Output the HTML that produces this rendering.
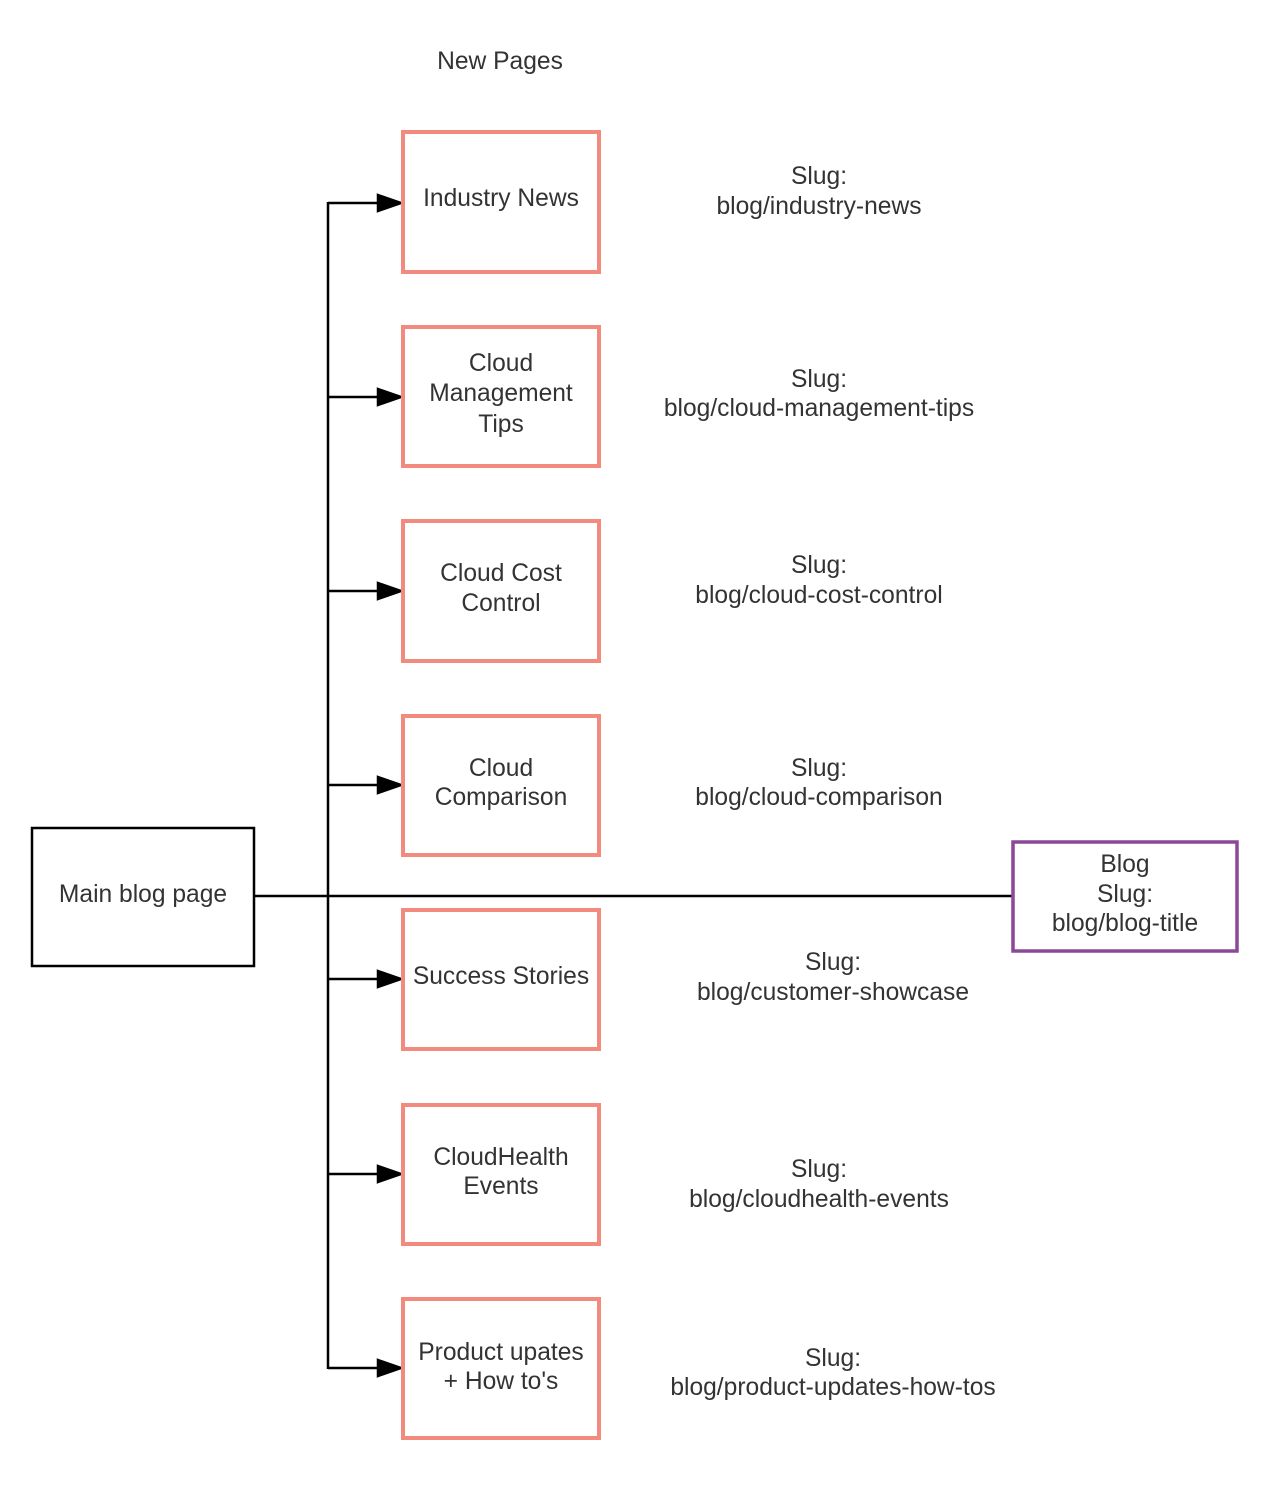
<!DOCTYPE html>
<html><head><meta charset="utf-8"><style>
body{margin:0;background:#fff}
svg text{font-family:"Liberation Sans",sans-serif;font-size:24.6px;fill:#333;text-anchor:middle}
</style></head><body>
<svg width="1266" height="1487" xmlns="http://www.w3.org/2000/svg">
<text x="500" y="69">New Pages</text>
<g fill="none" stroke="#000" stroke-width="2.5">
<line x1="328" y1="202" x2="328" y2="1369"/>
<line x1="254" y1="896" x2="1013" y2="896"/>
</g>
<g stroke="#000" stroke-width="2.5" fill="#000">
<line x1="328" y1="203" x2="380" y2="203"/><path d="M378,195 L401,203 L378,211 Z"/>
<line x1="328" y1="397" x2="380" y2="397"/><path d="M378,389 L401,397 L378,405 Z"/>
<line x1="328" y1="591" x2="380" y2="591"/><path d="M378,583 L401,591 L378,599 Z"/>
<line x1="328" y1="785" x2="380" y2="785"/><path d="M378,777 L401,785 L378,793 Z"/>
<line x1="328" y1="979" x2="380" y2="979"/><path d="M378,971 L401,979 L378,987 Z"/>
<line x1="328" y1="1174" x2="380" y2="1174"/><path d="M378,1166 L401,1174 L378,1182 Z"/>
<line x1="328" y1="1368" x2="380" y2="1368"/><path d="M378,1360 L401,1368 L378,1376 Z"/>
</g>
<g fill="#fff" stroke="#f38a7e" stroke-width="4">
<rect x="403" y="132" width="196" height="140"/>
<rect x="403" y="327" width="196" height="139"/>
<rect x="403" y="521" width="196" height="140"/>
<rect x="403" y="716" width="196" height="139"/>
<rect x="403" y="910" width="196" height="139"/>
<rect x="403" y="1105" width="196" height="139"/>
<rect x="403" y="1299" width="196" height="139"/>
</g>
<rect x="32" y="828" width="222" height="138" fill="#fff" stroke="#000" stroke-width="2.5"/>
<rect x="1013" y="842" width="224" height="109" fill="#fff" stroke="#8a4896" stroke-width="3.5"/>
<text x="143" y="902">Main blog page</text>
<text x="1125" y="872">Blog</text><text x="1125" y="902">Slug:</text><text x="1125" y="931">blog/blog-title</text>
<text x="501" y="206">Industry News</text>
<text x="501" y="371">Cloud</text><text x="501" y="401">Management</text><text x="501" y="432">Tips</text>
<text x="501" y="581">Cloud Cost</text><text x="501" y="611">Control</text>
<text x="501" y="776">Cloud</text><text x="501" y="805">Comparison</text>
<text x="501" y="984">Success Stories</text>
<text x="501" y="1165">CloudHealth</text><text x="501" y="1194">Events</text>
<text x="501" y="1360">Product upates</text><text x="501" y="1389">+ How to's</text>
<text x="819" y="184">Slug:</text><text x="819" y="214">blog/industry-news</text>
<text x="819" y="387">Slug:</text><text x="819" y="416">blog/cloud-management-tips</text>
<text x="819" y="573">Slug:</text><text x="819" y="603">blog/cloud-cost-control</text>
<text x="819" y="776">Slug:</text><text x="819" y="805">blog/cloud-comparison</text>
<text x="833" y="970">Slug:</text><text x="833" y="1000">blog/customer-showcase</text>
<text x="819" y="1177">Slug:</text><text x="819" y="1207">blog/cloudhealth-events</text>
<text x="833" y="1366">Slug:</text><text x="833" y="1395">blog/product-updates-how-tos</text>
</svg>
</body></html>
